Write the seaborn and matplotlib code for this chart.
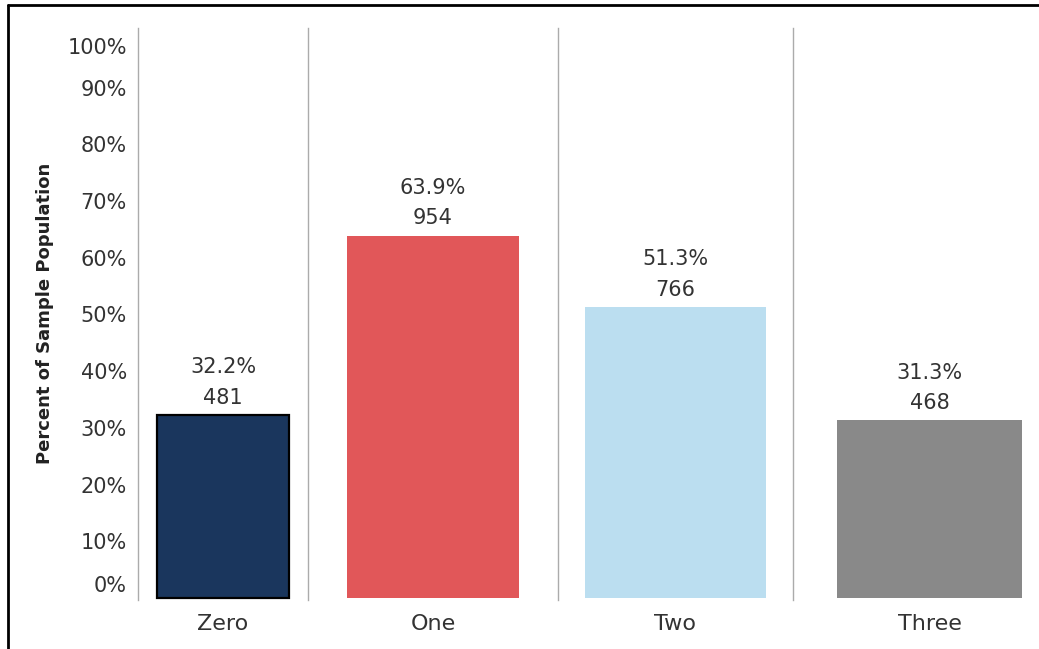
import matplotlib
matplotlib.use("Agg")
import matplotlib.pyplot as plt
import matplotlib.transforms as mtransforms
from matplotlib.lines import Line2D
import seaborn as sns

categories = ["Zero", "One", "Two", "Three"]
percents = [32.2, 63.9, 51.3, 31.3]
counts = [481, 954, 766, 468]
colors = ["#1a365d", "#e15759", "#bbdef0", "#898989"]
y_ticks = [0, 10, 20, 30, 40, 50, 60, 70, 80, 90, 100]

sns.set_style("white")
plt.rcParams["font.family"] = ["DejaVu Sans"]

# pane widths / bar widths as in the original dashboard
pane_widths = [170, 250, 235, 273]
bar_widths = [0.776, 0.688, 0.770, 0.678]

fig, axes = plt.subplots(1, 4, figsize=(10.39, 6.49), dpi=100, sharey=True,
                         gridspec_kw={"width_ratios": pane_widths, "wspace": 0})
fig.subplots_adjust(left=138 / 1039, right=(138 + sum(pane_widths)) / 1039,
                    top=1 - 28 / 649, bottom=1 - 600 / 649)

text_col = "#333333"
for i, ax in enumerate(axes):
    sns.barplot(x=[categories[i]], y=[percents[i]], color=colors[i],
                width=bar_widths[i], ax=ax, saturation=1)
    if i == 0:
        for p in ax.patches:
            p.set_edgecolor("black")
            p.set_linewidth(1.6)
    else:
        for p in ax.patches:
            p.set_linewidth(0)
    ax.set_ylim(-0.35, 100.5)
    for s in ["top", "right", "bottom"]:
        ax.spines[s].set_visible(False)
    ax.spines["left"].set_color("#ababab")
    ax.spines["left"].set_linewidth(1.0)
    ax.tick_params(axis="x", length=0, pad=10, labelsize=16, labelcolor=text_col)
    ax.tick_params(axis="y", length=0, pad=8, labelsize=15, labelcolor=text_col)
    ax.set_xlabel("")
    ax.set_ylabel("")
    ax.annotate(f"{counts[i]}", (0, percents[i]), xytext=(0, 12.5),
                textcoords="offset points", ha="center", va="center",
                fontsize=15, color=text_col)
    ax.annotate(f"{percents[i]:.1f}%", (0, percents[i]), xytext=(0, 34.5),
                textcoords="offset points", ha="center", va="center",
                fontsize=15, color=text_col)

ax0 = axes[0]
ax0.set_yticks(y_ticks)
ax0.set_yticklabels([f"{t}%" for t in y_ticks])
labels = ax0.get_yticklabels()
labels[0].set_transform(labels[0].get_transform() +
                        mtransforms.ScaledTranslation(0, 0.14, fig.dpi_scale_trans))
labels[-1].set_transform(labels[-1].get_transform() +
                         mtransforms.ScaledTranslation(0, -0.15, fig.dpi_scale_trans))
for ax in axes[1:]:
    ax.tick_params(axis="y", labelleft=False)

fig.text(45 / 1039, 1 - 313 / 649, "Percent of Sample Population", rotation=90,
         ha="center", va="center", fontsize=13, fontweight="bold", color="#222222")

# outer frame (top and left edges)
fig.add_artist(Line2D([8 / 1039, 1], [1 - 5 / 649, 1 - 5 / 649],
                      transform=fig.transFigure, color="black", linewidth=2.0))
fig.add_artist(Line2D([8 / 1039, 8 / 1039], [1 - 5 / 649, 0],
                      transform=fig.transFigure, color="black", linewidth=2.0))

fig.savefig("out.png", dpi=100)
